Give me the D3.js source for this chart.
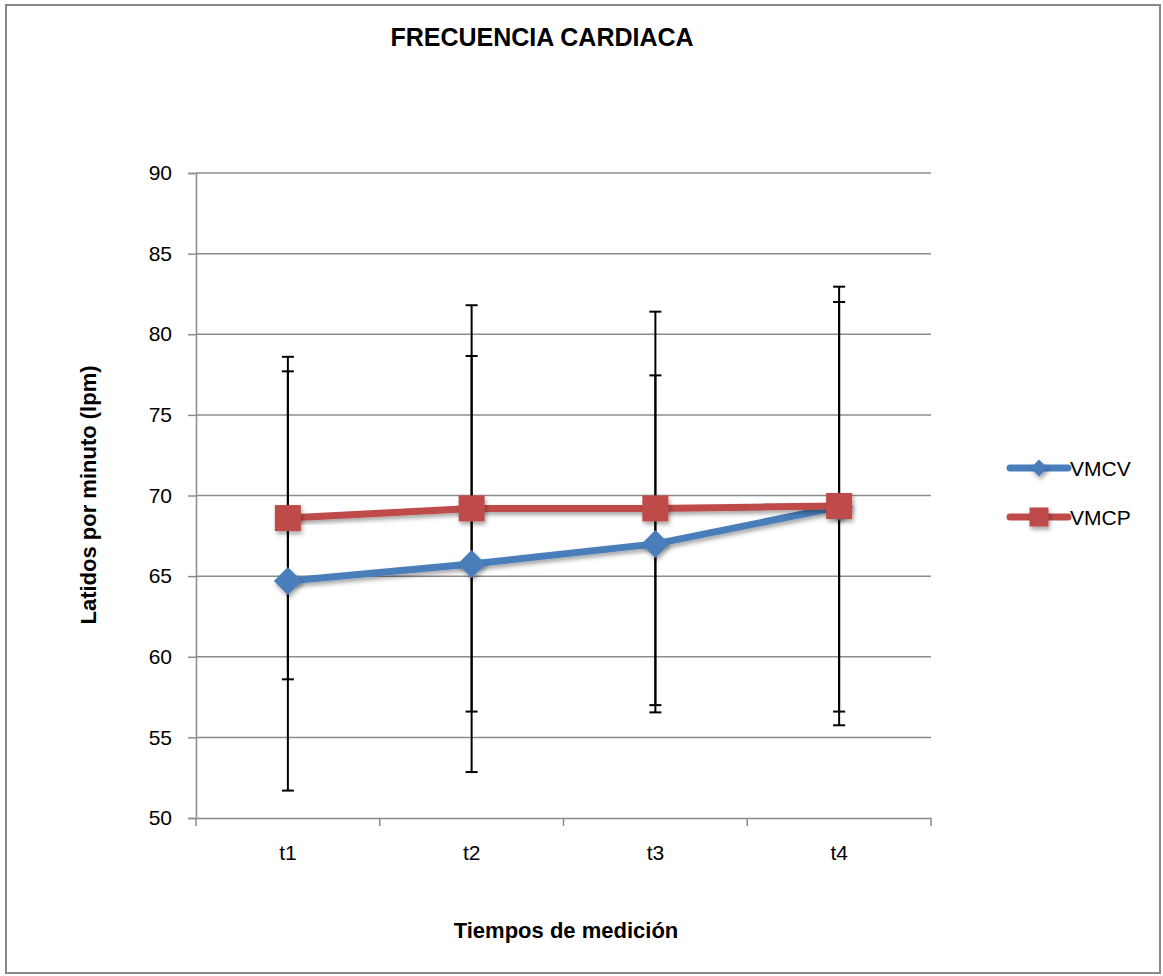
<!DOCTYPE html>
<html><head><meta charset="utf-8">
<script src="https://cdn.jsdelivr.net/npm/d3@7"></script>
<style>html,body{margin:0;padding:0;background:#fff}svg{display:block}</style>
</head><body>
<script>
const categories = ["t1","t2","t3","t4"];
const seriesNames = ["VMCV","VMCP"];
const vmcv = [64.7, 65.75, 67.0, 69.3];
const vmcp = [68.6, 69.2, 69.2, 69.35];
const vmcvErr = [13.0, 12.9, 10.45, 12.7];
const vmcpErr = [10.0, 12.6, 12.2, 13.6];
const yTicks = [50,55,60,65,70,75,80,85,90];
const colors = ["#4A7EBB", "#BE4B48"];

const W = 1163, H = 976;
const font = "'Liberation Sans', Arial, sans-serif";
const svg = d3.select("body").append("svg").attr("width", W).attr("height", H);

const defs = svg.append("defs");
const f = defs.append("filter").attr("id","sh").attr("x","-50%").attr("y","-50%").attr("width","200%").attr("height","200%");
f.append("feDropShadow").attr("dx",1.5).attr("dy",3).attr("stdDeviation",2).attr("flood-color","#000").attr("flood-opacity",0.35);

svg.append("rect").attr("x",6).attr("y",5).attr("width",1154).attr("height",968)
  .attr("fill","#fff").attr("stroke","#888").attr("stroke-width",2);

const L = 196, R = 931, T = 173, B = 818;
const x = d3.scaleBand().domain(categories).range([L, R]);
const y = d3.scaleLinear().domain([50, 90]).range([B, T]);

// gridlines
svg.append("g").selectAll("line").data(yTicks.filter(d => d > 50)).join("line")
  .attr("x1", L).attr("x2", R).attr("y1", d => y(d)).attr("y2", d => y(d))
  .attr("stroke", "#8c8c8c").attr("stroke-width", 1.5);

// y axis
const yAxis = svg.append("g").attr("transform", `translate(${L},0)`)
  .call(d3.axisLeft(y).tickValues(yTicks).tickSize(8).tickPadding(16).tickFormat(d3.format("d")));
yAxis.select(".domain").attr("stroke", "#8c8c8c").attr("stroke-width", 1.5);
yAxis.selectAll(".tick line").attr("stroke", "#8c8c8c").attr("stroke-width", 1.5);
yAxis.selectAll("text").attr("font-family", font).attr("font-size", 21).attr("fill", "#000");

// x axis
const xAxis = svg.append("g").attr("transform", `translate(0,${B})`)
  .call(d3.axisBottom(x).tickSize(0).tickPadding(27));
xAxis.select(".domain").attr("stroke", "#8c8c8c").attr("stroke-width", 1.5);
xAxis.selectAll("text").attr("font-family", font).attr("font-size", 21).attr("fill", "#000");
const bounds = categories.map(c => x(c)).concat([R]);
svg.append("g").selectAll("line").data(bounds).join("line")
  .attr("x1", d => d).attr("x2", d => d).attr("y1", B).attr("y2", B + 8)
  .attr("stroke", "#8c8c8c").attr("stroke-width", 1.5);

const cx = c => x(c) + x.bandwidth() / 2;
const series = [
  {name: seriesNames[0], vals: vmcv, err: vmcvErr, color: colors[0], shape: "diamond"},
  {name: seriesNames[1], vals: vmcp, err: vmcpErr, color: colors[1], shape: "square"}
];

// error bars
const eg = svg.append("g");
series.forEach(s => {
  categories.forEach((c, i) => {
    const lo = s.vals[i] - s.err[i], hi = s.vals[i] + s.err[i];
    eg.append("line").attr("x1", cx(c)).attr("x2", cx(c)).attr("y1", y(lo)).attr("y2", y(hi))
      .attr("stroke", "#000").attr("stroke-width", 2);
    [lo, hi].forEach(v => eg.append("line").attr("x1", cx(c) - 6).attr("x2", cx(c) + 6)
      .attr("y1", y(v)).attr("y2", y(v)).attr("stroke", "#000").attr("stroke-width", 2));
  });
});

const line = d3.line().x((d, i) => cx(categories[i])).y(d => y(d));
function marker(g, shape, px, py, color, size) {
  const h = size / 2;
  if (shape === "diamond") {
    g.append("path").attr("d", `M${px},${py - h}L${px + h},${py}L${px},${py + h}L${px - h},${py}Z`)
      .attr("fill", color).attr("filter", "url(#sh)");
  } else {
    g.append("rect").attr("x", px - h).attr("y", py - h).attr("width", size).attr("height", size)
      .attr("fill", color).attr("filter", "url(#sh)");
  }
}
series.forEach(s => {
  const g = svg.append("g");
  g.append("path").datum(s.vals).attr("d", line).attr("fill", "none")
    .attr("stroke", s.color).attr("stroke-width", 7).attr("stroke-linejoin", "round").attr("filter", "url(#sh)");
  s.vals.forEach((v, i) => marker(g, s.shape, cx(categories[i]), y(v), s.color, s.shape === "diamond" ? 28 : 26));
});

// legend
series.forEach((s, i) => {
  const ly = 468 + i * 49;
  const g = svg.append("g");
  g.append("line").attr("x1", 1010).attr("x2", 1068).attr("y1", ly).attr("y2", ly)
    .attr("stroke", s.color).attr("stroke-width", 7).attr("stroke-linecap", "round");
  marker(g, s.shape, 1039, ly, s.color, s.shape === "diamond" ? 17 : 19);
  g.append("text").attr("x", 1070).attr("y", ly + 8).attr("font-family", font).attr("font-size", 21)
    .attr("fill", "#000").text(s.name);
});

// titles
svg.append("text").attr("x", 542).attr("y", 46).attr("text-anchor", "middle")
  .attr("font-family", font).attr("font-weight", "bold").attr("font-size", 25).text("FRECUENCIA CARDIACA");
svg.append("text").attr("transform", "translate(96,495) rotate(-90)").attr("text-anchor", "middle")
  .attr("font-family", font).attr("font-weight", "bold").attr("font-size", 22).text("Latidos por minuto (lpm)");
svg.append("text").attr("x", 566).attr("y", 938).attr("text-anchor", "middle")
  .attr("font-family", font).attr("font-weight", "bold").attr("font-size", 22).text("Tiempos de medición");
</script>
</body></html>
